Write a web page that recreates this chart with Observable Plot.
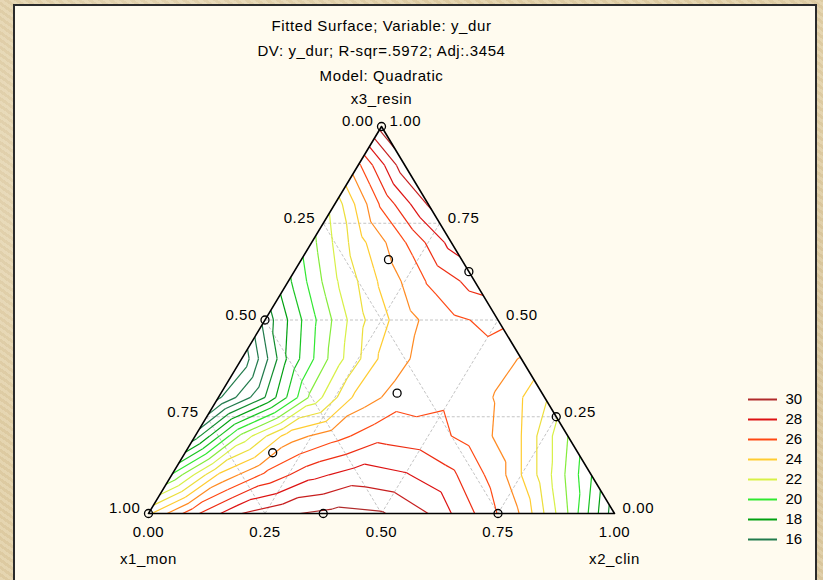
<!DOCTYPE html>
<html>
<head>
<meta charset="utf-8">
<script src="https://cdn.jsdelivr.net/npm/d3@7"></script>
<script src="https://cdn.jsdelivr.net/npm/@observablehq/plot@0.6"></script>
<style>
html, body { margin: 0; padding: 0; width: 823px; height: 580px; overflow: hidden; }
body {
  background-color: #e3d1a9;
  background-image:
    radial-gradient(circle at 20% 30%, rgba(255,255,255,0.25) 0, rgba(255,255,255,0) 40%),
    radial-gradient(circle at 80% 70%, rgba(150,120,70,0.18) 0, rgba(150,120,70,0) 45%),
    repeating-linear-gradient(35deg, rgba(255,255,255,0.08) 0 3px, rgba(120,90,40,0.06) 3px 6px);
}
#panel {
  position: absolute; left: 13px; top: 4px; width: 804px; height: 600px;
  background: #fffbef; border: 2px solid #2a2a2a; box-sizing: border-box;
}
#chart { position: absolute; left: 0; top: 0; }
#legend { position: absolute; left: 740px; top: 386px; }
</style>
</head>
<body>
<div id="panel"></div>
<div id="chart"></div>
<div id="legend"></div>
<script>
// Fitted surface y_dur read on a ternary grid (step 0.1).
// Row k holds x3_resin = k/10, entries go from x2_clin = 0 upward (x1_mon = 1 - x2 - x3).
const r0  = [23.8, 26.8, 29.0, 29.9, 30.3, 30.1, 29.0, 27.0, 24.9, 21.0, 16.4];
const r1  = [20.1, 24.1, 26.2, 27.7, 28.5, 28.1, 27.2, 25.5, 22.5, 19.05];
const r2  = [16.5, 21.3, 24.5, 25.65, 26.7, 26.4, 25.6, 24.0, 21.0];
const r3  = [13.8, 17.0, 21.3, 24.4, 25.6, 25.8, 24.9, 23.2];
const r4  = [13.2, 18.2, 21.5, 24.2, 25.5, 25.6, 24.95];
const r5  = [16.4, 19.7, 22.7, 24.65, 25.8, 26.3];
const r6  = [18.8, 21.85, 24.2, 26.1, 27.4];
const r7  = [20.7, 23.6, 25.95, 28.35];
const r8  = [22.4, 26.2, 29.1];
const r9  = [25.8, 29.7];
const r10 = [30.4];

// Contour levels and legend
const contourLevels = [13,14,15,16,17,18,19,20,21,22,23,24,25,26,27,28,29,30];
const legendLevels = [30, 28, 26, 24, 22, 20, 18, 16];
const legendColors = ["#b02a2a", "#dd1212", "#ff4812", "#ffcc30", "#d8f046", "#30e830", "#00a010", "#217a4c"];

// Design points (x1_mon, x2_clin, x3_resin)
const ptX1 = [0, 0.5, 0, 0, 0.625, 0.25, 1, 0.157, 0.311, 0.655];
const ptX2 = [0, 0, 0.375, 0.75, 0.375, 0.75, 0, 0.187, 0.378, 0.188];
const ptX3 = [1, 0.5, 0.625, 0.25, 0, 0, 0, 0.656, 0.311, 0.157];

// Axis ticks and grid
const tickValues = [0, 0.25, 0.5, 0.75, 1];
const gridValues = [0.25, 0.5, 0.75];

const titleLines = ["Fitted Surface; Variable: y_dur", "DV: y_dur; R-sqr=.5972; Adj:.3454", "Model: Quadratic"];
const labelX1 = "x1_mon", labelX2 = "x2_clin", labelX3 = "x3_resin";

// ternary -> cartesian (u along base, v height)
const tern = (x1, x2, x3) => ({u: x2 + x3 / 2, v: x3});

const rows = [r0, r1, r2, r3, r4, r5, r6, r7, r8, r9, r10];
const N = rows.length - 1;
const node = (j, k) => ({u: (j + k / 2) / N, v: k / N, z: rows[k][j]});
const tris = [];
for (let k = 0; k < N; k++) {
  for (let j = 0; j < N - k; j++) {
    tris.push([node(j, k), node(j + 1, k), node(j, k + 1)]);
    if (j < N - k - 1) tris.push([node(j + 1, k), node(j + 1, k + 1), node(j, k + 1)]);
  }
}
const segs = [];
for (const t of tris) {
  for (const L of contourLevels) {
    const pts = [];
    for (const [a, b] of [[0, 1], [1, 2], [2, 0]]) {
      const p = t[a], q = t[b];
      const dp = p.z - L, dq = q.z - L;
      if ((dp < 0) !== (dq < 0)) {
        const s = dp / (dp - dq);
        pts.push({u: p.u + s * (q.u - p.u), v: p.v + s * (q.v - p.v)});
      }
    }
    if (pts.length === 2) segs.push({level: L, u1: pts[0].u, v1: pts[0].v, u2: pts[1].u, v2: pts[1].v});
  }
}

const triangle = [tern(1, 0, 0), tern(0, 0, 1), tern(0, 1, 0)];
const outline = [...triangle, triangle[0]];

const grid = [];
for (const g of gridValues) {
  grid.push({a: tern(1 - g, 0, g), b: tern(0, 1 - g, g)});
  grid.push({a: tern(g, 1 - g, 0), b: tern(g, 0, 1 - g)});
  grid.push({a: tern(1 - g, g, 0), b: tern(0, g, 1 - g)});
}

const points = ptX1.map((x1, i) => tern(x1, ptX2[i], ptX3[i]));

const leftTicks = tickValues.map(t => ({...tern(t, 0, 1 - t), label: t.toFixed(2)}));
const rightTicks = tickValues.map(t => ({...tern(0, 1 - t, t), label: t.toFixed(2)}));
const bottomTicks = tickValues.map(t => ({...tern(1 - t, t, 0), label: t.toFixed(2)}));

const colorScale = {type: "linear", domain: legendLevels.slice().reverse(), range: legendColors.slice().reverse(), clamp: true, interpolate: "rgb"};
const font = "'Liberation Sans', Arial, sans-serif";
const txt = {fontSize: 15, fill: "black", lineAnchor: "middle"};

const chart = Plot.plot({
  width: 823, height: 580,
  marginLeft: 148, marginRight: 209, marginTop: 126, marginBottom: 67,
  x: {domain: [0, 1], axis: null},
  y: {domain: [0, 1], axis: null},
  color: colorScale,
  style: {background: "transparent", overflow: "visible", fontFamily: font, fontSize: "15px", letterSpacing: "0.6px", color: "black"},
  marks: [
    Plot.areaY(triangle, {x: "u", y: "v", fill: "white"}),
    Plot.link(grid, {x1: d => d.a.u, y1: d => d.a.v, x2: d => d.b.u, y2: d => d.b.v, stroke: "#c4c4c4", strokeWidth: 1, strokeDasharray: "3,2"}),
    Plot.link(segs, {x1: "u1", y1: "v1", x2: "u2", y2: "v2", stroke: "level", strokeWidth: 1.2}),
    Plot.line(outline, {x: "u", y: "v", stroke: "black", strokeWidth: 1.6}),
    Plot.dot(points, {x: "u", y: "v", r: 4, stroke: "black", strokeWidth: 1.3, fill: "none"}),
    Plot.text(leftTicks, {x: "u", y: "v", text: "label", textAnchor: "end", dx: -8, dy: -5, ...txt}),
    Plot.text(rightTicks, {x: "u", y: "v", text: "label", textAnchor: "start", dx: 8, dy: -5, ...txt}),
    Plot.text(bottomTicks, {x: "u", y: "v", text: "label", dy: 19, ...txt}),
    Plot.text([titleLines[0]], {frameAnchor: "top", text: d => d, dy: -100, ...txt}),
    Plot.text([titleLines[1]], {frameAnchor: "top", text: d => d, dy: -75, ...txt}),
    Plot.text([titleLines[2]], {frameAnchor: "top", text: d => d, dy: -50.5, ...txt}),
    Plot.text([labelX3], {frameAnchor: "top", text: d => d, dy: -27, ...txt}),
    Plot.text([{...tern(1, 0, 0), label: labelX1}], {x: "u", y: "v", text: "label", dy: 46, ...txt}),
    Plot.text([{...tern(0, 1, 0), label: labelX2}], {x: "u", y: "v", text: "label", dy: 46, ...txt})
  ]
});
document.getElementById("chart").appendChild(chart);

const legend = Plot.plot({
  width: 80, height: 166,
  marginTop: 10, marginBottom: 10, marginLeft: 0, marginRight: 0,
  x: {domain: [0, 80], range: [0, 80], axis: null},
  y: {type: "point", domain: legendLevels, padding: 0, axis: null},
  color: colorScale,
  style: {background: "transparent", overflow: "visible", fontFamily: font, fontSize: "15px", color: "black"},
  marks: [
    Plot.ruleY(legendLevels, {y: d => d, x1: 8, x2: 37, stroke: d => d, strokeWidth: 2}),
    Plot.text(legendLevels, {x: 45, y: d => d, text: d => String(d), textAnchor: "start", fontSize: 15, fill: "black", lineAnchor: "middle"})
  ]
});
document.getElementById("legend").appendChild(legend);
</script>
</body>
</html>
